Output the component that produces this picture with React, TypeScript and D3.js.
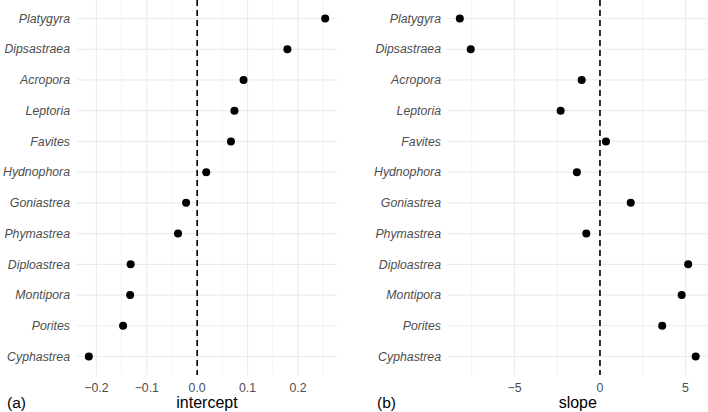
import React from "react";
import * as d3 from "d3";

const genera = [
  "Platygyra", "Dipsastraea", "Acropora", "Leptoria", "Favites", "Hydnophora",
  "Goniastrea", "Phymastrea", "Diploastrea", "Montipora", "Porites", "Cyphastrea",
];
const intercepts = [0.254, 0.179, 0.092, 0.074, 0.067, 0.018, -0.022, -0.038, -0.132, -0.133, -0.147, -0.215];
const slopes = [-8.2, -7.56, -1.07, -2.3, 0.35, -1.35, 1.8, -0.8, 5.16, 4.78, 3.64, 5.6];
const interceptTicks = [-0.2, -0.1, 0.0, 0.1, 0.2];
const interceptMinor = [-0.15, -0.05, 0.05, 0.15, 0.25];
const slopeTicks = [-5, 0, 5];
const slopeMinor = [-7.5, -2.5, 2.5];

const W = 708;
const H = 412;
const PANEL_TOP = 0;
const PANEL_BOTTOM = 375;
const GRID = "#EBEBEB";
const TEXT = "#4D4D4D";
const FONT = "'Liberation Sans', Arial, Helvetica, sans-serif";

function expanded(vals: number[]): [number, number] {
  const [lo, hi] = d3.extent(vals) as [number, number];
  const pad = (hi - lo) * 0.05;
  return [lo - pad, hi + pad];
}

type PanelProps = {
  values: number[];
  ticks: number[];
  minor: number[];
  fmt: (v: number) => string;
  x0: number;
  x1: number;
  title: string;
  tag: string;
  tagX: number;
};

function Panel({ values, ticks, minor, fmt, x0, x1, title, tag, tagX }: PanelProps) {
  const x = d3.scaleLinear().domain(expanded(values)).range([x0, x1]);
  const y = d3.scalePoint<string>().domain(genera).range([PANEL_TOP, PANEL_BOTTOM]).padding(0.6);
  return (
    <g>
      {minor.map((t) => (
        <line key={"mi" + t} x1={x(t)} x2={x(t)} y1={PANEL_TOP} y2={PANEL_BOTTOM} stroke={GRID} strokeWidth={0.6} />
      ))}
      {ticks.map((t) => (
        <line key={"ma" + t} x1={x(t)} x2={x(t)} y1={PANEL_TOP} y2={PANEL_BOTTOM} stroke={GRID} strokeWidth={1.1} />
      ))}
      {genera.map((g) => (
        <line key={"h" + g} x1={x0} x2={x1} y1={y(g)} y2={y(g)} stroke={GRID} strokeWidth={1.1} />
      ))}
      <line x1={x(0)} x2={x(0)} y1={PANEL_TOP} y2={PANEL_BOTTOM} stroke="#000" strokeWidth={1.6} strokeDasharray="6,4" />
      {genera.map((g, i) => (
        <circle key={"p" + g} cx={x(values[i])} cy={y(g)} r={4} fill="#000" />
      ))}
      {genera.map((g) => (
        <text key={"l" + g} x={x0 - 7} y={y(g)} dy="0.35em" textAnchor="end" fontStyle="italic" fontSize={12.3} fill={TEXT} fontFamily={FONT}>
          {g}
        </text>
      ))}
      {ticks.map((t) => (
        <text key={"t" + t} x={x(t)} y={392} textAnchor="middle" fontSize={12.3} fill={TEXT} fontFamily={FONT}>
          {fmt(t)}
        </text>
      ))}
      <text x={(x0 + x1) / 2} y={407.5} textAnchor="middle" fontSize={16} fill="#000" fontFamily={FONT}>
        {title}
      </text>
      <text x={tagX} y={407.5} textAnchor="start" fontSize={15.5} fill="#000" fontFamily={FONT}>
        {tag}
      </text>
    </g>
  );
}

const fmtDec = (v: number) => (v < 0 ? "\u2212" : "") + Math.abs(v).toFixed(1);
const fmtInt = (v: number) => (v < 0 ? "\u2212" : "") + Math.abs(v).toFixed(0);

export default function App() {
  return (
    <svg width={W} height={H} style={{ display: "block", position: "absolute", left: 0, top: 0, background: "#fff" }}>
      <rect width={W} height={H} fill="#fff" />
      <Panel values={intercepts} ticks={interceptTicks} minor={interceptMinor} fmt={fmtDec} x0={77} x1={337} title="intercept" tag="(a)" tagX={7} />
      <Panel values={slopes} ticks={slopeTicks} minor={slopeMinor} fmt={fmtInt} x0={448} x1={707.5} title="slope" tag="(b)" tagX={377} />
    </svg>
  );
}
